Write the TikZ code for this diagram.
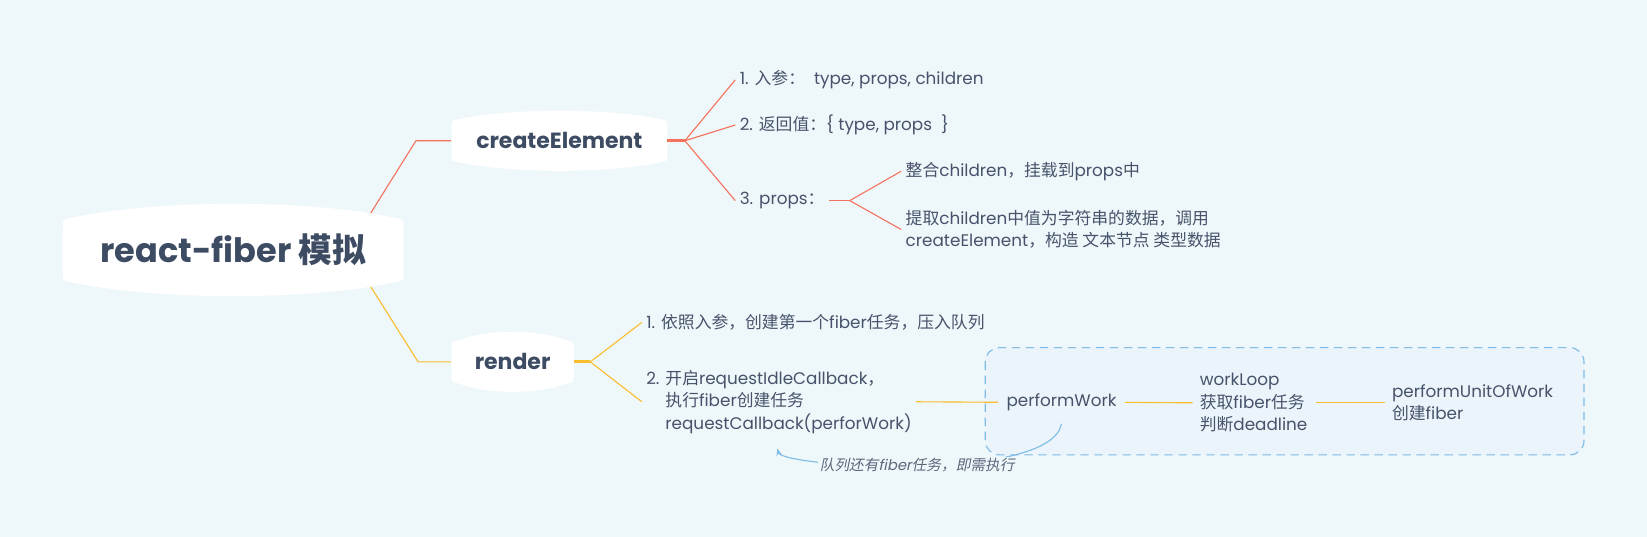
\documentclass[tikz,border=0pt]{standalone}
\usepackage{fontspec}
\setmainfont{Poppins}
\newfontfamily\cjk{Noto Sans CJK SC}
\newfontfamily\cjkit{Noto Sans CJK SC}[FakeSlant=0.2]
\newfontfamily\latit{Poppins}[FakeSlant=0.2]
\usetikzlibrary{arrows.meta,backgrounds,calc}
\definecolor{bgcol}{HTML}{EEF7FA}
\definecolor{boxcol}{HTML}{EAF4FA}
\definecolor{boxline}{HTML}{7FBCE6}
\definecolor{redln}{HTML}{F4735F}
\definecolor{yelln}{HTML}{F9BE2E}
\definecolor{txt}{HTML}{46536A}
\definecolor{ttl}{HTML}{3D4B63}
\definecolor{reltxt}{HTML}{5C677A}
\newcommand\zh[1]{{\cjk #1}}
\newcommand\topicshape[3]{%
\fill[white] let \p1=(#1.north west), \p2=(#1.south east), \n1={0.25*(\x2-\x1)}, \n2={4/3*(#2-1)} in
(\x1,\y2+#3) -- (\x1,\y1-#3)
.. controls (\x1,\y1) .. (\x1+#3,\y1+1)
.. controls (\x1+#3+\n1,\y1+1+\n2) and (\x2-#3-\n1,\y1+1+\n2) .. (\x2-#3,\y1+1)
.. controls (\x2,\y1) .. (\x2,\y1-#3)
-- (\x2,\y2+#3)
.. controls (\x2,\y2) .. (\x2-#3,\y2-1)
.. controls (\x2-#3-\n1,\y2-1-\n2) and (\x1+#3+\n1,\y2-1-\n2) .. (\x1+#3,\y2-1)
.. controls (\x1,\y2) .. cycle;}
\begin{document}
\begin{tikzpicture}[x=0.75pt,y=-0.75pt,
  roottopic/.style={inner sep=0pt, minimum width=243pt, minimum height=43.5pt, text=ttl, font=\fontsize{24}{28}\selectfont\bfseries},
  maintopic/.style={inner sep=0pt, minimum height=28.5pt, text=ttl, font=\fontsize{15.7}{19}\selectfont\bfseries},
  item/.style={anchor=west, inner xsep=3pt, inner ysep=2pt, align=left, text=txt, font=\fontsize{12}{16}\selectfont},
  redline/.style={draw=redln, line width=0.8pt},
  yelline/.style={draw=yelln, line width=0.8pt},
  forkline/.style={line width=2.2pt},
  rel/.style={draw=boxline, line width=0.8pt, -{Stealth[length=5pt,width=4pt]}},
  rellabel/.style={fill=bgcol, inner sep=1pt, text=reltxt, font=\fontsize{10.5}{12}\selectfont}]
\useasboundingbox (0,0) rectangle (1568,511);
\node[roottopic] (root) at (222,238){react-fiber \zh{模拟}};
\node[maintopic, minimum width=153.75pt] (create) at (532.5,134){createElement};
\node[maintopic, minimum width=87pt] (render) at (488,344.5){render};
\coordinate (rootc) at (331,238);
\coordinate (elbowc) at (396,134);
\coordinate (elbowr) at (398,344.5);
\coordinate (cfork) at (652,134);
\coordinate (pfork) at (809,191);
\coordinate (rfork) at (562,344.5);
\node[item] (arg) at (700,76){1. \zh{入参：}~ type, props, children};
\node[item] (ret) at (700,119){2. \zh{返回值：}\{ type, props~~\}};
\node[item] (props) at (700,191){3. props\zh{：}};
\node[item] (merge) at (858,163){\zh{整合}children\zh{，挂载到}props\zh{中}};
\node[item] (text) at (858,218.5){\zh{提取}children\zh{中值为字符串的数据，调用}\\createElement\zh{，构造 文本节点 类型数据}};
\node[item] (first) at (611,307){1. \zh{依照入参，创建第一个}fiber\zh{任务，压入队列}};
\node[item] (idle) at (611,382.5){2. \zh{开启}requestIdleCallback\zh{，}\\\phantom{2. }\zh{执行}fiber\zh{创建任务}\\\phantom{2. }requestCallback(perforWork)};
\node[item] (perf) at (954,383){performWork};
\node[item] (loop) at (1138,383.5){workLoop\\\zh{获取}fiber\zh{任务}\\\zh{判断}deadline};
\node[item] (unit) at (1321,383.5){performUnitOfWork\\\zh{创建}fiber};
\coordinate (cbtarget) at (740,427);
\begin{scope}[on background layer]
\fill[bgcol] (0,0) rectangle (1568,511);
\draw[draw=boxline, fill=boxcol, line width=0.8pt, dash pattern=on 6pt off 4pt, rounded corners=10pt] (938,331) rectangle (1508,433);
\draw[redline] (rootc) -- (elbowc) -- (create.west);
\draw[yelline] (rootc) -- (elbowr) -- (render.west);
\topicshape{root}{11}{6}
\topicshape{create}{7}{5}
\topicshape{render}{7}{5}
\end{scope}
\draw[redline, forkline] (create.east) -- (cfork);
\draw[redline] (cfork) -- (arg.west);
\draw[redline] (cfork) -- (ret.west);
\draw[redline] (cfork) -- (props.west);
\draw[redline] (props.east) -- (pfork);
\draw[redline] (pfork) -- (merge.west);
\draw[redline] (pfork) -- (text.west);
\draw[yelline, forkline] (render.east) -- (rfork);
\draw[yelline] (rfork) -- (first.west);
\draw[yelline] (rfork) -- (idle.west);
\draw[yelline, shorten >=3pt] (idle.east) -- (perf.west);
\draw[yelline, shorten <=3pt, shorten >=2pt] (perf.east) -- (loop.west);
\draw[yelline, shorten <=3pt, shorten >=2pt] (loop.east) -- (unit.west);
\draw[rel] ([yshift=-7pt]perf.south) .. controls (1000,460) and (745,445) .. node[rellabel, pos=0.5] (cblabel) {\cjkit 队列还有{\latit fiber}任务，即需执行} (cbtarget);
\end{tikzpicture}
\end{document}
